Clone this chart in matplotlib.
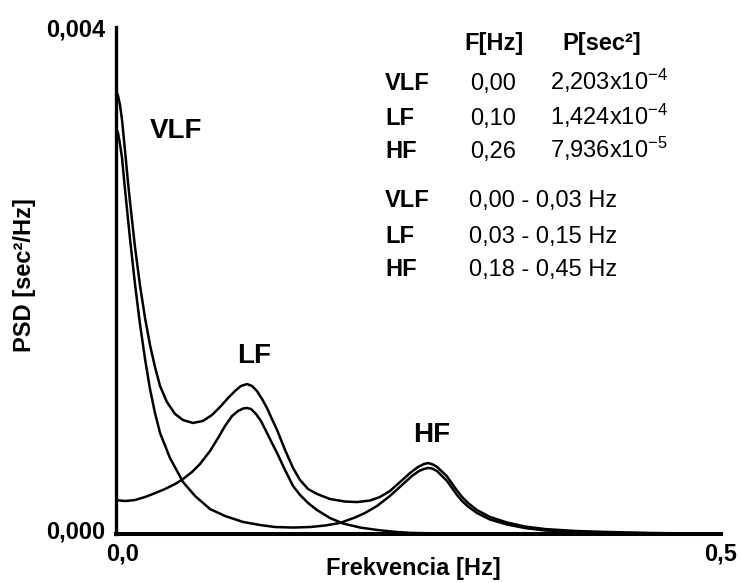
import numpy as np
import matplotlib
matplotlib.use("Agg")
import matplotlib.pyplot as plt
import matplotlib.transforms as mtransforms

plt.rcParams['font.family'] = ['Liberation Sans', 'DejaVu Sans']
plt.rcParams['mathtext.fontset'] = 'custom'
plt.rcParams['mathtext.rm'] = 'Liberation Sans'
plt.rcParams['mathtext.it'] = 'Liberation Sans'
plt.rcParams['mathtext.bf'] = 'Liberation Sans:bold'

# ---- data (PSD values in units of 1e-3 sec^2/Hz) ----
freq_total = [0.0, 0.0017, 0.0033, 0.0050, 0.0074, 0.0099, 0.0116, 0.0157, 0.0198,
              0.0240, 0.0281, 0.0322, 0.0364, 0.0421, 0.0488, 0.0554, 0.0636, 0.0719,
              0.0793, 0.0860, 0.0926, 0.0983, 0.1033, 0.1083, 0.1124, 0.1165, 0.1207,
              0.1248, 0.1289, 0.1331, 0.1397, 0.1463, 0.1521, 0.1587, 0.1661, 0.1769,
              0.1893, 0.1992, 0.2099, 0.2182, 0.2264, 0.2347, 0.2430, 0.2496, 0.2545,
              0.2579, 0.2620, 0.2653, 0.2694, 0.2736, 0.2777, 0.2818, 0.2860, 0.2909,
              0.2983, 0.3091, 0.3231, 0.3380, 0.3545, 0.3793, 0.4058, 0.4413, 0.5]
psd_total = [3.503, 3.456, 3.385, 3.266, 3.030, 2.777, 2.619, 2.264, 1.964,
             1.704, 1.491, 1.318, 1.168, 1.041, 0.947, 0.899, 0.876, 0.892,
             0.939, 1.002, 1.073, 1.128, 1.168, 1.183, 1.168, 1.128, 1.065,
             0.994, 0.907, 0.821, 0.663, 0.521, 0.426, 0.355, 0.316, 0.276,
             0.256, 0.252, 0.264, 0.292, 0.339, 0.410, 0.481, 0.529, 0.552,
             0.560, 0.548, 0.529, 0.493, 0.454, 0.398, 0.343, 0.292, 0.245,
             0.189, 0.134, 0.091, 0.059, 0.039, 0.024, 0.016, 0.008, 0.002]

freq_lf = [0.0, 0.0074, 0.0157, 0.0240, 0.0306, 0.0405, 0.0488, 0.0554, 0.0628,
           0.0694, 0.0777, 0.0843, 0.0901, 0.0959, 0.1008, 0.1050, 0.1083, 0.1116,
           0.1157, 0.1198, 0.1248, 0.1289, 0.1331, 0.1397, 0.1463, 0.1521, 0.1587,
           0.1661, 0.1769, 0.1876, 0.2017, 0.2157, 0.2306, 0.2430, 0.2678, 0.3174, 0.5]
psd_lf = [0.268, 0.260, 0.268, 0.292, 0.316, 0.355, 0.394, 0.434, 0.489,
          0.552, 0.655, 0.757, 0.852, 0.931, 0.970, 0.990, 0.994, 0.986,
          0.947, 0.892, 0.797, 0.718, 0.639, 0.505, 0.379, 0.308, 0.245,
          0.189, 0.126, 0.083, 0.051, 0.032, 0.017, 0.009, 0.004, 0.002, 0.0]

freq_vlf_hf = [0.0, 0.0017, 0.0033, 0.0050, 0.0074, 0.0116, 0.0157, 0.0198, 0.0240,
               0.0281, 0.0322, 0.0364, 0.0446, 0.0554, 0.0653, 0.0777, 0.0901, 0.1050,
               0.1190, 0.1314, 0.1463, 0.1603, 0.1727, 0.1851, 0.1975, 0.2058, 0.2157,
               0.2264, 0.2372, 0.2446, 0.2504, 0.2545, 0.2579, 0.2612, 0.2653, 0.2694,
               0.2736, 0.2777, 0.2818, 0.2860, 0.2909, 0.2983, 0.3091, 0.3231, 0.3380,
               0.3545, 0.3793, 0.4058, 0.4413, 0.5]
psd_vlf_hf = [3.203, 3.164, 3.077, 2.966, 2.722, 2.327, 1.972, 1.657, 1.381,
              1.144, 0.955, 0.797, 0.600, 0.410, 0.300, 0.197, 0.142, 0.095,
              0.071, 0.055, 0.051, 0.055, 0.067, 0.087, 0.130, 0.166, 0.221,
              0.300, 0.394, 0.458, 0.497, 0.513, 0.521, 0.517, 0.497, 0.458,
              0.418, 0.363, 0.308, 0.260, 0.217, 0.166, 0.114, 0.075, 0.047,
              0.028, 0.016, 0.009, 0.006, 0.002]

band_names = ['VLF', 'LF', 'HF']
peak_freqs = ['0,00', '0,10', '0,26']
peak_powers = ['2,203x10$^{-4}$', '1,424x10$^{-4}$', '7,936x10$^{-5}$']
band_ranges = ['0,00 - 0,03 Hz', '0,03 - 0,15 Hz', '0,18 - 0,45 Hz']
label_pos = {'VLF': (0.0496, 0.003124), 'LF': (0.114, 0.001349), 'HF': (0.261, 0.000726)}

W, H = 740, 583
fig = plt.figure(figsize=(W / 100, H / 100), dpi=100)
ax = fig.add_axes([116 / W, 1 - 534 / H, (721 - 116) / W, (534 - 27) / H])

scale = 1e-3
for f, p in [(freq_total, psd_total), (freq_lf, psd_lf), (freq_vlf_hf, psd_vlf_hf)]:
    ax.plot(f, np.array(p) * scale, color='black', lw=1.8,
            solid_joinstyle='round', solid_capstyle='round')

ax.set_xlim(0, 0.5)
ax.set_ylim(0, 0.004)
for s in ['top', 'right']:
    ax.spines[s].set_visible(False)
ax.spines['left'].set_linewidth(2.4)
ax.spines['bottom'].set_linewidth(2.9)

ax.set_xticks([0, 0.5], ['0,0', '0,5'])
ax.set_yticks([0, 0.004], ['0,000', '0,004'])
ax.tick_params(axis='both', length=0, labelsize=17)
ax.tick_params(axis='y', pad=8)
ax.tick_params(axis='x', pad=6)
for lbl in ax.get_xticklabels() + ax.get_yticklabels():
    lbl.set_fontweight('bold')

# small offsets of the end labels, as in the reference
lx = ax.xaxis.get_major_ticks()[0].label1
lx.set_transform(lx.get_transform() + mtransforms.ScaledTranslation(7 / 100, 0, fig.dpi_scale_trans))
ly = ax.yaxis.get_major_ticks()[0].label1
ly.set_transform(ly.get_transform() + mtransforms.ScaledTranslation(0, 4 / 100, fig.dpi_scale_trans))

ax.set_xlabel('Frekvencia [Hz]', fontsize=17, fontweight='bold')
ax.xaxis.set_label_coords((413 - 116) / 605, (534 - 557) / 507)
ax.set_ylabel('PSD [sec²/Hz]', fontsize=17, fontweight='bold', va='center')
ax.yaxis.set_label_coords((25 - 116) / 605, (534 - 275) / 507)

for name, (fx, py) in label_pos.items():
    ax.text(fx, py, name, fontsize=20, fontweight='bold', ha='center', va='baseline')

def ft(x, y, s, **kw):
    fig.text(x / W, 1 - y / H, s, va='baseline', **kw)

fs = 17
ft(494, 50, 'F[Hz]', ha='center', fontsize=fs, fontweight='bold')
ft(602, 50, 'P[sec²]', ha='center', fontsize=fs, fontweight='bold')
rows1 = [90, 125, 158]
for y, n, fq, pw in zip(rows1, band_names, peak_freqs, peak_powers):
    ft(385, y, n, ha='left', fontsize=fs, fontweight='bold')
    ft(493, y, fq, ha='center', fontsize=fs)
    ft(668, y, pw, ha='right', fontsize=fs)
rows2 = [207, 243, 276]
for y, n, r in zip(rows2, band_names, band_ranges):
    ft(385, y, n, ha='left', fontsize=fs, fontweight='bold')
    ft(469, y, r, ha='left', fontsize=fs)

fig.savefig('out.png', dpi=100, facecolor='white')
